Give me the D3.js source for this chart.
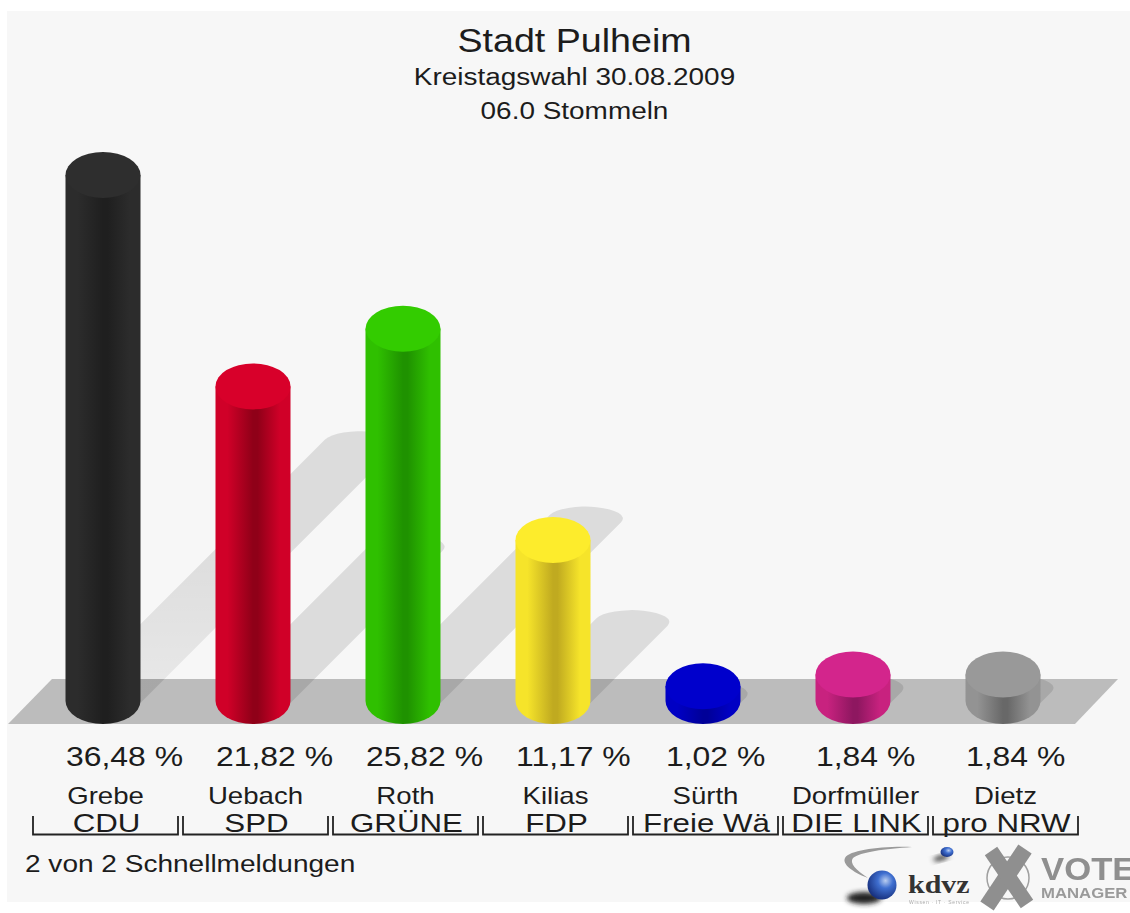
<!DOCTYPE html>
<html><head><meta charset="utf-8">
<script src="https://cdn.jsdelivr.net/npm/d3@7"></script>
<style>
html,body{margin:0;padding:0;background:#fff}
svg{display:block;filter:blur(0.6px)}
text{font-family:"Liberation Sans",Arial,sans-serif;fill:#1c1c1c}
</style></head><body>
<script>
const parties = ["CDU","SPD","GRÜNE","FDP","Freie Wä","DIE LINK","pro NRW"];
const candidates = ["Grebe","Uebach","Roth","Kilias","Sürth","Dorfmüller","Dietz"];
const shares = [36.48,21.82,25.82,11.17,1.02,1.84,1.84];
const shareLabels = ["36,48 %","21,82 %","25,82 %","11,17 %","1,02 %","1,84 %","1,84 %"];
const topColors = ["#2e2e2e","#d8002a","#33cc00","#fdec2c","#0000cc","#d3258c","#999999"];
const sideColors = ["#2c2c2c","#d00028","#2fc000","#f6e42a","#0000c4","#c8227f","#939393"];
const darkColors = ["#1f1f1f","#8f0018","#1f9200","#c0aa20","#000098","#8e1760","#686868"];
const title = "Stadt Pulheim";
const subtitles = ["Kreistagswahl 30.08.2009","06.0 Stommeln"];
const footer = "2 von 2 Schnellmeldungen";

const W=1130,H=913, baseY=701, rx=37.5, ry=23, shRy=12, shK=0.49, stretch=1.14;
const svg=d3.select("body").append("svg").attr("width",W).attr("height",H).attr("viewBox",`0 0 ${W} ${H}`);
const defs=svg.append("defs");
const x=d3.scalePoint().domain(parties).range([103,1003]);
const y=d3.scaleLinear().domain([0,36.48]).range([baseY,175]);
const labelX=d3.scalePoint().domain(parties).range([105.5,1005.5]);

svg.append("rect").attr("x",7).attr("y",11).attr("width",W-7).attr("height",891).attr("fill","#f7f7f7");

// floor
svg.append("path").attr("d","M8,724 L52,679 L1118,679 L1075,724 Z").attr("fill","#bcbcbc");

// shadows
const fade=defs.append("linearGradient").attr("id","fade").attr("gradientUnits","userSpaceOnUse")
  .attr("x1",0).attr("y1",700).attr("x2",0).attr("y2",540);
[[0,0.11],[0.13,0.11],[0.131,0.065],[1,0.11]].forEach(s=>fade.append("stop").attr("offset",s[0]).attr("stop-color","#000").attr("stop-opacity",s[1]));
const shadow=svg.append("g");
parties.forEach((p,i)=>{
  const h=baseY-y(shares[i]), d=h*shK, cx=x(p);
  const c=Math.sqrt(rx*rx+shRy*shRy), tx=rx*rx/c, ty=shRy*shRy/c;
  const ex=cx+d, ey=baseY-d;
  const path=shadow.append("path")
    .attr("d",`M${cx-tx},${baseY-ty} L${ex-tx},${ey-ty} A${rx},${shRy} 0 0 1 ${ex+tx},${ey+ty} L${cx+tx},${baseY+ty} Z`);
  if(i===0) path.attr("fill","url(#fade)");
  else path.attr("fill","#000").attr("fill-opacity",0.105);
});

// cylinders
parties.forEach((p,i)=>{
  const g=defs.append("linearGradient").attr("id","g"+i);
  [[0,sideColors[i]],[0.16,sideColors[i]],[0.5,darkColors[i]],[0.56,darkColors[i]],[0.86,sideColors[i]],[1,sideColors[i]]]
    .forEach(s=>g.append("stop").attr("offset",s[0]).attr("stop-color",s[1]));
});
const bars=svg.selectAll("g.bar").data(parties).join("g").attr("class","bar");
bars.append("path")
  .attr("d",(p,i)=>`M${x(p)-rx},${y(shares[i])} L${x(p)-rx},${baseY} A${rx},${ry} 0 0 0 ${x(p)+rx},${baseY} L${x(p)+rx},${y(shares[i])} Z`)
  .attr("fill",(p,i)=>`url(#g${i})`);
bars.append("ellipse")
  .attr("cx",p=>x(p)).attr("cy",(p,i)=>y(shares[i])).attr("rx",rx).attr("ry",ry)
  .attr("fill",(p,i)=>topColors[i]);

function stretched(sel,tx,ty,size,anchor,s){
  return sel.attr("transform",`translate(${tx},${ty}) scale(${s||stretch},1)`)
    .attr("font-size",size).attr("text-anchor",anchor||"middle");
}
stretched(svg.append("text").text(title),574.5,52,33);
subtitles.forEach((s,i)=>stretched(svg.append("text").text(s),574.5,[85,119][i],24.5));

parties.forEach((p,i)=>{
  stretched(svg.append("text").text(shareLabels[i]),x(p)-37,766,28,"start");
  stretched(svg.append("text").text(candidates[i]),labelX(p),804,23,"middle",1.2);
  stretched(svg.append("text").text(p),labelX(p)+1,832,26.5,"middle",1.18);
  const bx=labelX(p);
  svg.append("path").attr("d",`M${bx-72.5},816 V834.5 H${bx+72.5} V816`)
    .attr("fill","none").attr("stroke","#222").attr("stroke-width",1.8);
});
stretched(svg.append("text").text(footer),25,872,24.6,"start");

// logos
const blue=defs.append("radialGradient").attr("id","ball").attr("cx",0.62).attr("cy",0.35).attr("r",0.75);
[[0,"#b9cdf0"],[0.35,"#3f6fd0"],[1,"#10246e"]].forEach(s=>blue.append("stop").attr("offset",s[0]).attr("stop-color",s[1]));
const soft=defs.append("filter").attr("id","soft").attr("x","-40%").attr("y","-40%").attr("width","180%").attr("height","180%");
soft.append("feGaussianBlur").attr("stdDeviation",2.5);
const logo=svg.append("g");
logo.append("path").attr("d","M912,847 C880,846 850,850 845,858 C842,864 852,872 868,878 C856,870 849,863 853,858 C860,852 885,849 912,847 Z").attr("fill","#9a9a9a");
logo.append("ellipse").attr("cx",941).attr("cy",858).attr("rx",8).attr("ry",2.5).attr("fill","#333").attr("filter","url(#soft)").attr("transform","rotate(-15 941 858)");
logo.append("ellipse").attr("cx",947).attr("cy",852).attr("rx",6.5).attr("ry",5).attr("fill","url(#ball)");
logo.append("ellipse").attr("cx",864).attr("cy",898).attr("rx",17).attr("ry",6).attr("fill","#222").attr("filter","url(#soft)");
logo.append("circle").attr("cx",882).attr("cy",885).attr("r",14.5).attr("fill","url(#ball)");
logo.append("text").text("kdvz").attr("transform","translate(908,893) scale(1.2,1)").attr("font-size",25).attr("font-weight",700).style("font-family","'Liberation Serif',serif").style("fill","#333");
logo.append("text").text("Wissen · IT · Service").attr("x",909).attr("y",904).attr("font-size",5).style("fill","#aaa").attr("textLength",60);
logo.append("circle").attr("cx",1008).attr("cy",878).attr("r",21).attr("fill","none").attr("stroke","#a0a0a0").attr("stroke-width",1.5);
logo.append("path").attr("d","M1025,849 L987,906").attr("stroke","#8f8f8f").attr("stroke-width",16).attr("fill","none");
logo.append("path").attr("d","M991,851 L1027,904").attr("stroke","#8f8f8f").attr("stroke-width",15).attr("fill","none");
logo.append("text").text("VOTE").attr("transform","translate(1041,880) scale(1.12,1)").attr("font-size",31).attr("font-weight",700).style("fill","#8f8f8f");
logo.append("text").text("MANAGER").attr("transform","translate(1041,898) scale(1.08,1)").attr("font-size",15.5).attr("font-weight",700).style("fill","#9a9a9a");
</script></body></html>
